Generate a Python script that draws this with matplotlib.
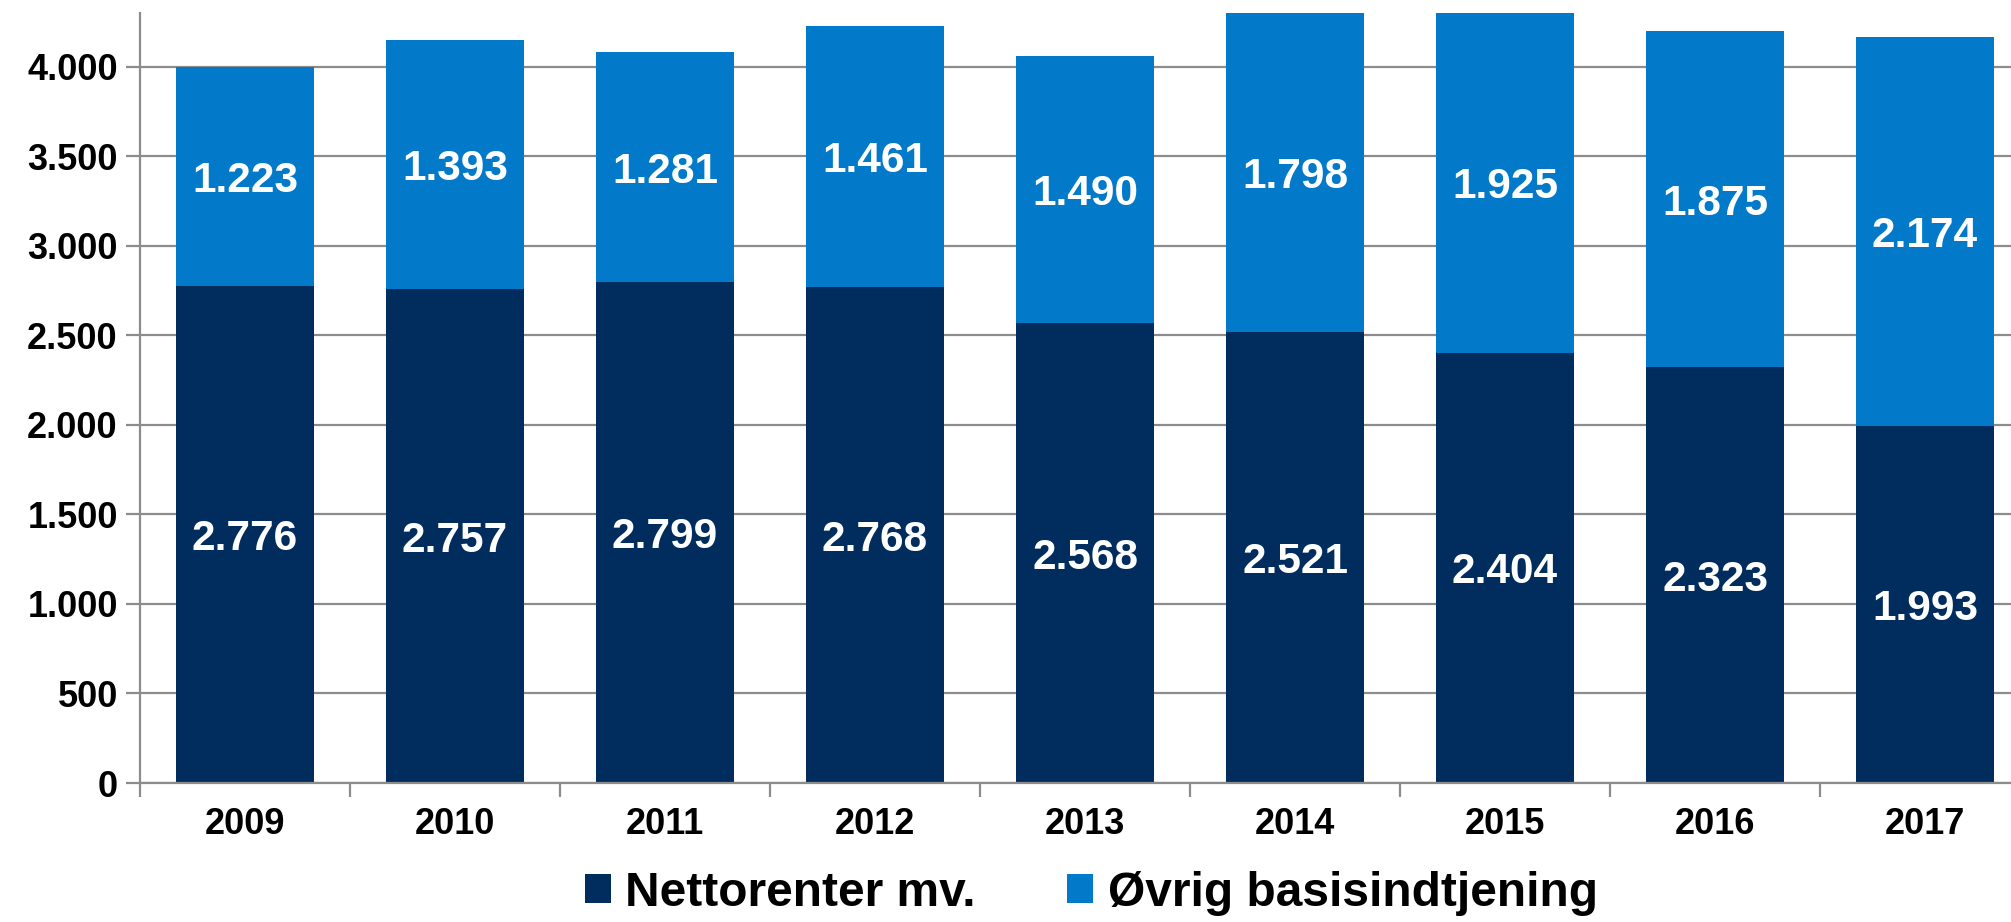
import matplotlib
matplotlib.use("Agg")
import matplotlib.pyplot as plt
import numpy as np
from matplotlib.patches import Patch

years = ["2009", "2010", "2011", "2012", "2013", "2014", "2015", "2016", "2017"]
netto = [2776, 2757, 2799, 2768, 2568, 2521, 2404, 2323, 1993]
oevrig = [1223, 1393, 1281, 1461, 1490, 1798, 1925, 1875, 2174]
series_names = ["Nettorenter mv.", "Øvrig basisindtjening"]
yticks = [0, 500, 1000, 1500, 2000, 2500, 3000, 3500, 4000]

DARK = "#002D5E"
LIGHT = "#0279C9"
GRID = "#8C8C8C"

plt.rcParams["font.family"] = ["Liberation Sans", "DejaVu Sans"]
plt.rcParams["font.weight"] = "bold"

W, H = 2011, 922
fig = plt.figure(figsize=(W / 100, H / 100), dpi=100)
left, right, top, bottom = 140, 2030, 13, 783
ax = fig.add_axes([left / W, 1 - bottom / H, (right - left) / W, (bottom - top) / H])

ymax = 4300
x = np.arange(len(years))
bw = 0.66
ax.bar(x, netto, width=bw, color=DARK, zorder=3)
ax.bar(x, oevrig, width=bw, bottom=netto, color=LIGHT, zorder=3)

ax.set_xlim(-0.5, len(years) - 0.5)
ax.set_ylim(0, ymax)

def fmt(v):
    return f"{v:,}".replace(",", ".")

for i in range(len(years)):
    b = netto[i]
    ax.text(x[i], b / 2, fmt(b), ha="center", va="center_baseline", color="white",
            fontsize=30.5, fontweight="bold", zorder=4)
    t_top = min(b + oevrig[i], ymax)
    ax.text(x[i], (b + t_top) / 2, fmt(oevrig[i]), ha="center", va="center_baseline",
            color="white", fontsize=30.5, fontweight="bold", zorder=4)

ax.set_yticks(yticks)
ax.set_yticklabels([fmt(v) for v in yticks], fontsize=26, fontweight="bold")
ax.yaxis.grid(True, color=GRID, linewidth=1.6, zorder=0)
ax.set_axisbelow(True)

# x ticks at category boundaries, labels centered
ax.set_xticks(np.arange(-0.5, len(years) - 0.5 + 0.01, 1.0))
ax.set_xticklabels([])
ax.set_xticks(x, minor=True)
ax.set_xticklabels(years, minor=True, fontsize=26, fontweight="bold")
ax.tick_params(axis="x", which="minor", length=0, pad=17)
ax.tick_params(axis="x", which="major", length=10, width=1.6, color=GRID)
ax.tick_params(axis="y", length=10, width=1.6, color=GRID, pad=6)

for s in ["top", "right"]:
    ax.spines[s].set_visible(False)
for s in ["left", "bottom"]:
    ax.spines[s].set_color(GRID)
    ax.spines[s].set_linewidth(1.6)
ax.spines["left"].set_zorder(5)
ax.spines["bottom"].set_zorder(5)

handles = [Patch(facecolor=DARK, edgecolor="none"), Patch(facecolor=LIGHT, edgecolor="none")]
leg = fig.legend(handles, series_names, loc="center", bbox_to_anchor=(1091 / W, 1 - 893 / H),
                 ncol=2, frameon=False, prop={"size": 34.5, "weight": "bold"},
                 handlelength=0.55, handleheight=0.55, handletextpad=0.3, columnspacing=1.9)

fig.savefig("out.png", dpi=100)
